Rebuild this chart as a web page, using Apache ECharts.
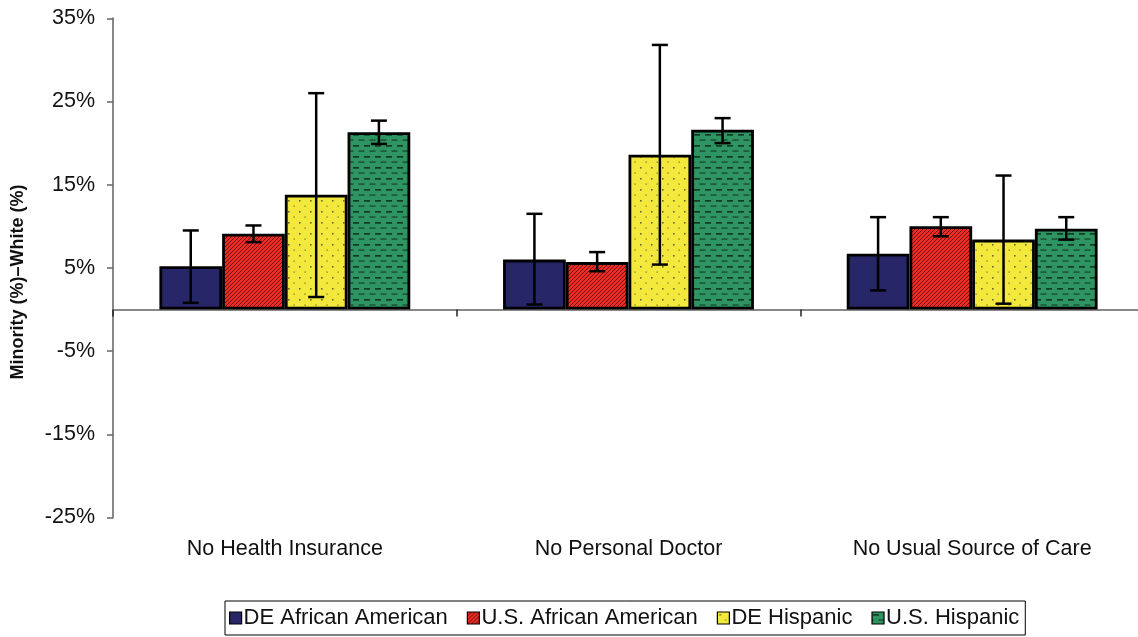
<!DOCTYPE html>
<html>
<head>
<meta charset="utf-8">
<script src="https://cdn.jsdelivr.net/npm/echarts@6/dist/echarts.min.js"></script>
<style>
  html, body { margin: 0; padding: 0; background: #fff; }
  #chart { width: 1138px; height: 637px; }
</style>
</head>
<body>
<div id="chart"></div>
<script>
// ==================== DATA ====================
const categories = ['No Health Insurance', 'No Personal Doctor', 'No Usual Source of Care'];
const seriesNames = ['DE African American', 'U.S. African American', 'DE Hispanic', 'U.S. Hispanic'];
const deAfrAm   = [5.2, 6.0, 6.7];
const usAfrAm   = [9.1, 5.7, 10.0];
const deHisp    = [13.8, 18.6, 8.4];
const usHisp    = [21.3, 21.6, 9.7];
// error bar ends [low, high]
const deAfrAmErr = [[0.8, 9.5], [0.6, 11.5], [2.3, 11.1]];
const usAfrAmErr = [[8.1, 10.1], [4.6, 6.9], [8.8, 11.1]];
const deHispErr  = [[1.5, 26.0], [5.4, 31.8], [0.7, 16.1]];
const usHispErr  = [[19.9, 22.7], [20.0, 23.0], [8.4, 11.1]];
const yTicks = { min: -25, max: 35, step: 10 };

// ==================== PATTERNS ====================
function tile(w, h, draw) {
  const c = document.createElement('canvas');
  c.width = w; c.height = h;
  draw(c.getContext('2d'));
  return { image: c, repeat: 'repeat' };
}
const blueFill = '#262668';
const redFill = tile(4, 4, g => {
  g.fillStyle = '#ee2a24'; g.fillRect(0, 0, 4, 4);
  g.strokeStyle = '#5a100c'; g.lineWidth = 0.9;
  g.beginPath();
  g.moveTo(-1, 5); g.lineTo(5, -1);
  g.moveTo(-1, 1); g.lineTo(1, -1);
  g.moveTo(3, 5); g.lineTo(5, 3);
  g.stroke();
});
const yellowFill = tile(11, 11, g => {
  g.fillStyle = '#f2e93c'; g.fillRect(0, 0, 11, 11);
  g.fillStyle = '#6b6a30';
  g.fillRect(2, 2, 1.6, 1.6);
  g.fillRect(7.5, 7.5, 1.2, 1.2);
});
const greenFill = tile(11, 11, g => {
  g.fillStyle = '#2e9461'; g.fillRect(0, 0, 11, 11);
  g.fillStyle = '#153b25';
  g.fillRect(1, 2, 6, 1.7);
  g.fillRect(6.5, 7.5, 4.5, 1.1);
  g.fillRect(0, 7.5, 1.5, 1.1);
});
const fills = [blueFill, redFill, yellowFill, greenFill];
const values = [deAfrAm, usAfrAm, deHisp, usHisp];
const errs = [deAfrAmErr, usAfrAmErr, deHispErr, usHispErr];

// ==================== CHART ====================
const chart = echarts.init(document.getElementById('chart'));
const GAP = 0.27;
const textC = '#111';
const FS = 21.5;

function errorSeries(k) {
  return {
    type: 'custom',
    xAxisIndex: 0,
    z: 10,
    silent: true,
    data: errs[k].map((e, i) => [i, e[0], e[1]]),
    renderItem: (params, api) => {
      const i = api.value(0);
      const lo = api.coord([i, api.value(1)]);
      const hi = api.coord([i, api.value(2)]);
      const bw = api.size([1, 0])[0] * (1 - GAP) / 4;
      const x = lo[0] - 2 * bw + (k + 0.5) * bw;
      const cap = 8;
      const st = { stroke: '#000', lineWidth: 2.5 };
      return {
        type: 'group',
        children: [
          { type: 'line', shape: { x1: x, y1: hi[1], x2: x, y2: lo[1] }, style: st },
          { type: 'line', shape: { x1: x - cap, y1: hi[1], x2: x + cap, y2: hi[1] }, style: st },
          { type: 'line', shape: { x1: x - cap, y1: lo[1], x2: x + cap, y2: lo[1] }, style: st }
        ]
      };
    }
  };
}

chart.setOption({
  backgroundColor: '#fff',
  animation: false,
  grid: { left: 113, right: -6, top: 18.3, bottom: 119.5, outerBoundsMode: 'none', containLabel: false },
  legend: {
    data: seriesNames,
    icon: 'rect',
    left: 225, top: 601,
    itemWidth: 12, itemHeight: 12, itemGap: 19,
    borderColor: '#000', borderWidth: 1, borderRadius: 0,
    padding: [6, 6, 6, 4],
    textStyle: { color: textC, fontSize: 22, fontFamily: 'Liberation Sans', padding: [0, 0, 0, -3] },
    itemStyle: { borderColor: '#000', borderWidth: 1.2 }
  },
  xAxis: [
    {
      type: 'category', data: categories,
      axisLine: { onZero: true, lineStyle: { color: '#888', width: 2 } },
      axisTick: { show: true, length: 7, lineStyle: { color: '#222', width: 1.5 } },
      axisLabel: { show: false }
    },
    {
      type: 'category', data: categories, position: 'bottom',
      axisLine: { show: false, onZero: false },
      axisTick: { show: false },
      axisLabel: { color: textC, fontSize: FS, fontFamily: 'Liberation Sans', margin: 21 }
    }
  ],
  yAxis: {
    type: 'value', min: yTicks.min, max: yTicks.max, interval: yTicks.step,
    name: 'Minority (%)\u2013White (%)', nameLocation: 'middle', nameGap: 86,
    nameTextStyle: { color: textC, fontSize: 18, fontWeight: 'bold', fontFamily: 'Liberation Sans', padding: [0, 28, 0, 0] },
    axisLine: { show: true, lineStyle: { color: '#888', width: 2 } },
    axisTick: { show: true, length: 6, lineStyle: { color: '#666', width: 1.5 } },
    axisLabel: { color: textC, fontSize: FS, fontFamily: 'Liberation Sans', margin: 18, formatter: v => v + '%' },
    splitLine: { show: false }
  },
  series: [
    ...seriesNames.map((n, k) => ({
      name: n, type: 'bar', xAxisIndex: 0,
      data: values[k],
      barGap: '0%', barCategoryGap: (GAP * 100) + '%',
      itemStyle: { color: fills[k], borderColor: '#000', borderWidth: 2.8 }
    })),
    ...seriesNames.map((n, k) => errorSeries(k))
  ]
});
</script>
</body>
</html>
